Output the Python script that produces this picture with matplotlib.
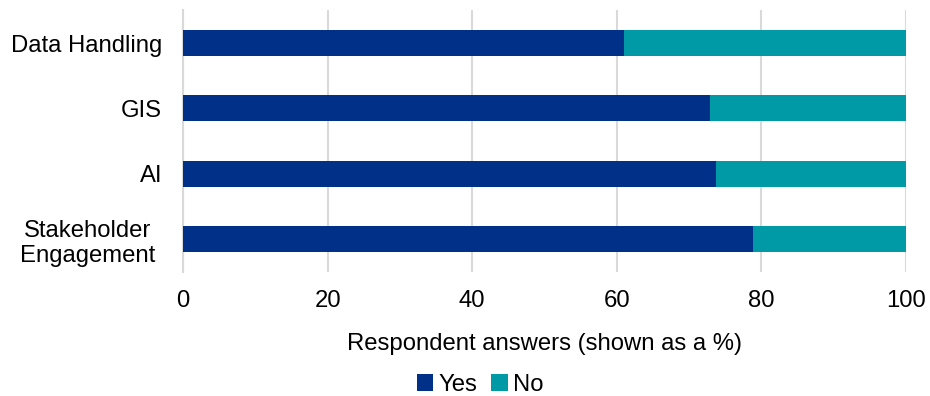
import matplotlib
matplotlib.use("Agg")
import matplotlib.pyplot as plt
import matplotlib.transforms as mtransforms
import numpy as np

categories = ["Data Handling", "GIS", "AI", "Stakeholder\nEngagement"]
yes_pct = [61.0, 72.9, 73.7, 78.8]
no_pct = [39.0, 27.1, 26.3, 21.2]
series_names = ["Yes", "No"]
x_ticks = [0, 20, 40, 60, 80, 100]

YES_COLOR = "#003087"
NO_COLOR = "#009AA6"
GRID_COLOR = "#d9d9d9"

plt.rcParams["font.family"] = ["Liberation Sans", "DejaVu Sans"]

fig = plt.figure(figsize=(9.3, 3.96), dpi=100)
ax = fig.add_axes([0.1968, 0.314, 0.7774, 0.6595])

y = np.arange(len(categories))
ax.barh(y, yes_pct, height=0.4, color=YES_COLOR, label=series_names[0], zorder=3)
ax.barh(y, no_pct, left=yes_pct, height=0.4, color=NO_COLOR, label=series_names[1], zorder=3)

ax.set_ylim(len(categories) - 0.5, -0.5)
ax.set_xlim(0, 100)
ax.set_yticks(y)
ax.set_yticklabels(categories, fontsize=17.2, multialignment="center")
ax.set_xticks(x_ticks)
ax.set_xticklabels([str(t) for t in x_ticks], fontsize=17.2)
ax.tick_params(axis="both", length=0)
ax.tick_params(axis="y", pad=15)
ax.tick_params(axis="x", pad=13)

# the two-line label sits a little further from the axis
two_line = ax.get_yticklabels()[-1]
two_line.set_transform(two_line.get_transform() +
                       mtransforms.ScaledTranslation(-7 / 100, 0, fig.dpi_scale_trans))

ax.grid(axis="x", color=GRID_COLOR, linewidth=1.5, zorder=0)
for side in ["top", "right", "bottom"]:
    ax.spines[side].set_visible(False)
ax.spines["left"].set_color(GRID_COLOR)
ax.spines["left"].set_linewidth(1.5)

ax.set_xlabel("Respondent answers (shown as a %)", fontsize=17.2, labelpad=15)

fig.legend(loc="center", bbox_to_anchor=(480 / 930, 1 - 385 / 396), ncol=2,
           frameon=False, fontsize=17.2, handlelength=0.7, handleheight=0.7,
           handletextpad=0.2, columnspacing=0.6, borderpad=0)

fig.savefig("out.png", dpi=100)
